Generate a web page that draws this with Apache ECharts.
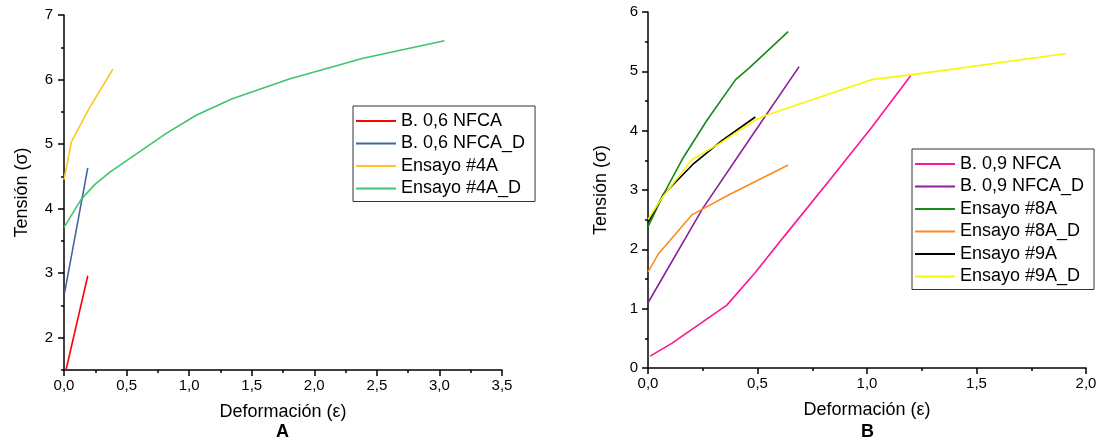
<!DOCTYPE html>
<html>
<head>
<meta charset="utf-8">
<script src="https://cdn.jsdelivr.net/npm/echarts@6/dist/echarts.min.js"></script>
<style>
  html, body { margin: 0; padding: 0; background: #fff; }
  #chart-container { width: 1106px; height: 445px; }
</style>
</head>
<body>
<div id="chart-container"></div>
<script>
// Gráfico A: [deformación, tensión]
var namesA = ['B. 0,6 NFCA', 'B. 0,6 NFCA_D', 'Ensayo #4A', 'Ensayo #4A_D'];
var coloresA = ['#FF0000', '#44679C', '#FFC425', '#3FC46F'];
var nfca06 = [[0.016, 1.5], [0.19, 2.96]];
var nfca06D = [[0.005, 2.70], [0.19, 4.63]];
var ensayo4A = [[0.0, 4.45], [0.06, 5.04], [0.2, 5.55], [0.39, 6.16]];
var ensayo4AD = [[0.0, 3.71], [0.14, 4.15], [0.25, 4.38], [0.37, 4.57], [0.55, 4.81], [0.82, 5.17],
	[1.06, 5.45], [1.34, 5.70], [1.80, 6.01], [2.39, 6.33], [3.04, 6.60]];

// Gráfico B
var namesB = ['B. 0,9 NFCA', 'B. 0,9 NFCA_D', 'Ensayo #8A', 'Ensayo #8A_D', 'Ensayo #9A', 'Ensayo #9A_D'];
var coloresB = ['#FF1493', '#8E1E9E', '#178A17', '#FF8A1E', '#000000', '#F7F700'];
var nfca09 = [[0.01, 0.2], [0.11, 0.42], [0.36, 1.06], [0.49, 1.61], [0.62, 2.21], [0.83, 3.17],
	[1.02, 4.05], [1.2, 4.93]];
var nfca09D = [[0.0, 1.1], [0.25, 2.69], [0.47, 3.89], [0.69, 5.08]];
var ensayo8A = [[0.0, 2.38], [0.07, 2.92], [0.16, 3.54], [0.27, 4.18], [0.40, 4.86], [0.46, 5.05],
	[0.64, 5.67]];
var ensayo8AD = [[0.0, 1.62], [0.047, 1.92], [0.2, 2.58], [0.37, 2.92], [0.64, 3.42]];
var ensayo9A = [[0.0, 2.45], [0.07, 2.92], [0.21, 3.45], [0.34, 3.84], [0.49, 4.23]];
var ensayo9AD = [[0.0, 2.5], [0.07, 2.9], [0.2, 3.51], [0.33, 3.79], [0.49, 4.18], [0.54, 4.26],
	[1.02, 4.86], [1.2, 4.94], [1.91, 5.30]];

var ticksYA = [2, 3, 4, 5, 6, 7];
var minorYA = [1.5, 2.5, 3.5, 4.5, 5.5, 6.5];

var fuente = '"Liberation Sans", Arial, sans-serif';

var chartDom = document.getElementById('chart-container');
var myChart = echarts.init(chartDom);

function coma(v) {
	return v.toFixed(1).replace('.', ',');
}

function ejeX(gi, max) {
	return {
		type: 'value', gridIndex: gi, min: 0, max: max, interval: 0.5,
		name: 'Deformación (ε)', nameLocation: 'middle', nameGap: 33,
		nameTextStyle: { fontSize: 18, color: '#000', fontFamily: fuente },
		axisLine: { lineStyle: { color: '#000', width: 1.5 } },
		axisTick: { length: 6, lineStyle: { color: '#000', width: 1.5 } },
		minorTick: { show: true, splitNumber: 2, length: 3, lineStyle: { color: '#000', width: 1.5 } },
		axisLabel: { fontSize: 15, color: '#000', fontFamily: fuente, margin: 8, formatter: coma },
		splitLine: { show: false }
	};
}

function linea(name, color, data, gi) {
	return {
		name: name, type: 'line', xAxisIndex: gi, yAxisIndex: gi, data: data,
		showSymbol: false, symbol: 'none', color: color,
		lineStyle: { color: color, width: 1.6 }
	};
}

var series = [];
var datosA = [nfca06, nfca06D, ensayo4A, ensayo4AD];
var datosB = [nfca09, nfca09D, ensayo8A, ensayo8AD, ensayo9A, ensayo9AD];
datosA.forEach(function(d, i) { series.push(linea(namesA[i], coloresA[i], d, 0)); });
datosB.forEach(function(d, i) { series.push(linea(namesB[i], coloresB[i], d, 1)); });

var leyenda = {
	orient: 'vertical', icon: 'rect', itemWidth: 40, itemHeight: 2, itemGap: 0.5, itemTextGap: 7,
	padding: [4, 10, 2, 3], borderColor: '#333', borderWidth: 1, selectedMode: false,
	textStyle: { fontSize: 18, lineHeight: 22, color: '#000', fontFamily: fuente }
};

var option = {
	backgroundColor: '#fff',
	animation: false,
	grid: [
		{ left: 64, top: 15, width: 438, height: 355 },
		{ left: 648, top: 12, width: 438, height: 356 },
		{ left: 64, top: 15, width: 438, height: 355 }
	],
	legend: [
		Object.assign({}, leyenda, { data: namesA, left: 353, top: 106 }),
		Object.assign({}, leyenda, { data: namesB, left: 912, top: 149 })
	],
	xAxis: [
		ejeX(0, 3.5),
		ejeX(1, 2),
		{ type: 'value', gridIndex: 2, min: 0, max: 3.5, show: false }
	],
	yAxis: [
		{
			type: 'value', gridIndex: 0, min: 1.5, max: 7, interval: 0.5,
			name: 'Tensión (σ)', nameLocation: 'middle', nameGap: 33,
			nameTextStyle: { fontSize: 18, color: '#000', fontFamily: fuente },
			axisLine: { show: true, lineStyle: { color: '#000', width: 1.5 } },
			axisTick: { show: true, length: 6, customValues: ticksYA, lineStyle: { color: '#000', width: 1.5 } },
			axisLabel: { fontSize: 15, color: '#000', fontFamily: fuente, margin: 11, customValues: ticksYA },
			splitLine: { show: false }
		},
		{
			type: 'value', gridIndex: 1, min: 0, max: 6, interval: 1,
			name: 'Tensión (σ)', nameLocation: 'middle', nameGap: 38,
			nameTextStyle: { fontSize: 18, color: '#000', fontFamily: fuente },
			axisLine: { show: true, lineStyle: { color: '#000', width: 1.5 } },
			axisTick: { show: true, length: 6, lineStyle: { color: '#000', width: 1.5 } },
			minorTick: { show: true, splitNumber: 2, length: 3, lineStyle: { color: '#000', width: 1.5 } },
			axisLabel: { fontSize: 15, color: '#000', fontFamily: fuente, margin: 10 },
			splitLine: { show: false }
		},
		{
			type: 'value', gridIndex: 2, min: 1.5, max: 7,
			axisLine: { show: false },
			axisTick: { show: true, length: 3, customValues: minorYA, lineStyle: { color: '#000', width: 1.5 } },
			axisLabel: { show: false },
			splitLine: { show: false }
		}
	],
	graphic: [
		{ type: 'text', left: 276, top: 423, style: { text: 'A', font: 'bold 18px ' + fuente, fill: '#000' } },
		{ type: 'text', left: 861, top: 423, style: { text: 'B', font: 'bold 18px ' + fuente, fill: '#000' } }
	],
	series: series
};

myChart.setOption(option);

window.addEventListener('resize', function() {
	myChart.resize();
});
</script>
</body>
</html>
